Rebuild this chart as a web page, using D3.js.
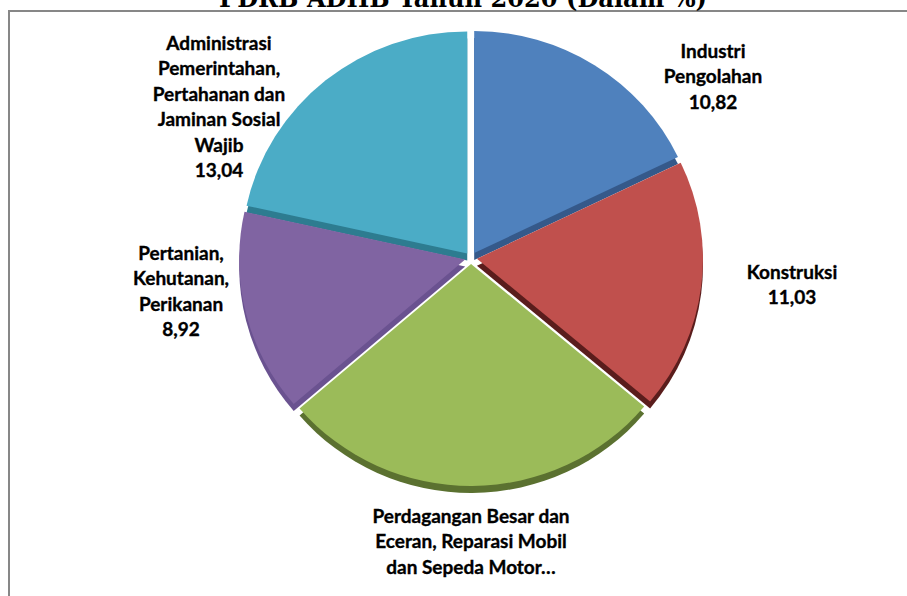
<!DOCTYPE html>
<html><head><meta charset="utf-8">
<script src="https://cdn.jsdelivr.net/npm/d3@7"></script>
<style>body{margin:0;background:#fff} svg{display:block}</style>
</head><body>
<script>
// ---- data ----
const title = "PDRB ADHB Tahun 2020 (Dalam %)";
const categories = [
  "Industri Pengolahan",
  "Konstruksi",
  "Perdagangan Besar dan Eceran, Reparasi Mobil dan Sepeda Motor",
  "Pertanian, Kehutanan, Perikanan",
  "Administrasi Pemerintahan, Pertahanan dan Jaminan Sosial Wajib"
];
const values = [10.82, 11.03, 16.7, 8.92, 13.04];
const valueLabels = ["10,82", "11,03", "", "8,92", "13,04"];
const labelLines = [
  ["Industri", "Pengolahan"],
  ["Konstruksi"],
  ["Perdagangan Besar dan", "Eceran, Reparasi Mobil", "dan Sepeda Motor…"],
  ["Pertanian,", "Kehutanan,", "Perikanan"],
  ["Administrasi", "Pemerintahan,", "Pertahanan dan", "Jaminan Sosial", "Wajib"]
];

// ---- layout / style ----
const W = 907, H = 596;
const faceColors = ["#4F81BD", "#C0504D", "#9BBB59", "#8064A2", "#4BACC6"];
const sideColors = ["#35598A", "#5A1D1C", "#5B7130", "#6A5290", "#2D7C90"];
const labelPos = [[713, 58], [792, 279], [471, 523], [181, 260], [219, 50]];
const lineH = 25.4;
const cx = 471, cy = 258, rx = 226, ry = 222, explode = 6, depth = 7;

const svg = d3.select("body").append("svg").attr("width", W).attr("height", H);

// chart border (only top/left visible)
svg.append("rect").attr("x", 9).attr("y", 11).attr("width", 1200).attr("height", 1200)
  .attr("fill", "none").attr("stroke", "#878787").attr("stroke-width", 2);

// title (cut by the top edge, as in the original)
svg.append("text").attr("x", 463).attr("y", 7)
  .attr("text-anchor", "middle")
  .attr("font-family", "DejaVu Serif").attr("font-weight", "bold").attr("font-size", 26)
  .attr("textLength", 488).attr("lengthAdjust", "spacingAndGlyphs")
  .attr("fill", "#000").text(title);

const pie = d3.pie().sort(null).startAngle(0).endAngle(2 * Math.PI).value(d => d);
const arcs = pie(values);
const arc = d3.arc().innerRadius(0).outerRadius(rx);

const order = arcs.map((a, i) => i).sort((i, j) => {
  const mi = (arcs[i].startAngle + arcs[i].endAngle) / 2;
  const mj = (arcs[j].startAngle + arcs[j].endAngle) / 2;
  return Math.cos(mj) - Math.cos(mi);
});

const g = svg.append("g");
order.forEach(i => {
  const a = arcs[i];
  const mid = (a.startAngle + a.endAngle) / 2;
  const dx = explode * Math.sin(mid), dy = -explode * Math.cos(mid) * ry / rx;
  g.append("path").attr("d", arc(a))
    .attr("transform", `translate(${cx + dx},${cy + dy + depth}) scale(1,${ry / rx})`)
    .attr("fill", sideColors[i]);
  g.append("path").attr("d", arc(a))
    .attr("transform", `translate(${cx + dx},${cy + dy}) scale(1,${ry / rx})`)
    .attr("fill", faceColors[i]);
});

// labels
categories.forEach((c, i) => {
  const lines = labelLines[i].slice();
  if (valueLabels[i]) lines.push(valueLabels[i]);
  const t = svg.append("text")
    .attr("font-family", "Lato").attr("font-weight", "bold").attr("font-size", 19)
    .attr("text-anchor", "middle").attr("fill", "#000")
    .attr("stroke", "#000").attr("stroke-width", 0.35);
  lines.forEach((l, k) => {
    t.append("tspan").attr("x", labelPos[i][0]).attr("y", labelPos[i][1] + k * lineH).text(l);
  });
});
</script>
</body></html>
